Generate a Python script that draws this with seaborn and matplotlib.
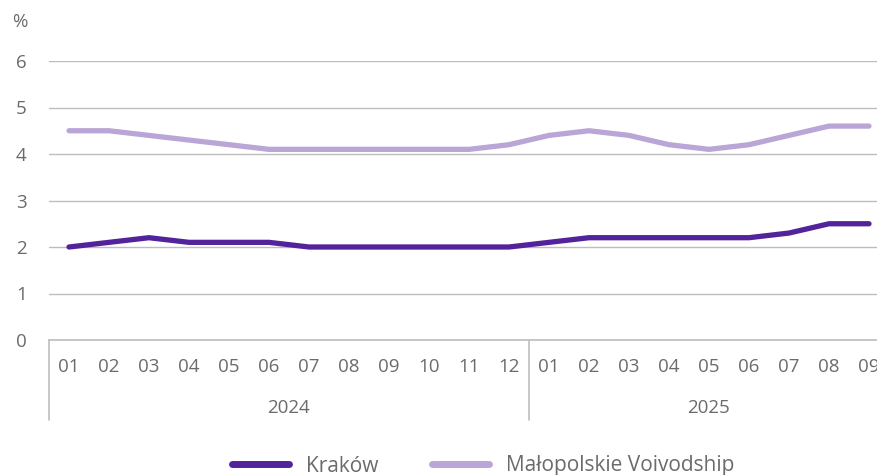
import pandas as pd
import matplotlib.pyplot as plt
import seaborn as sns

# Chart data
months = ['01', '02', '03', '04', '05', '06', '07', '08', '09', '10', '11', '12',
          '01', '02', '03', '04', '05', '06', '07', '08', '09']
years = ['2024', '2025']
year_counts = [12, 9]
krakow = [2.0, 2.1, 2.2, 2.1, 2.1, 2.1, 2.0, 2.0, 2.0, 2.0, 2.0, 2.0,
          2.1, 2.2, 2.2, 2.2, 2.2, 2.2, 2.3, 2.5, 2.5]
malopolskie = [4.5, 4.5, 4.4, 4.3, 4.2, 4.1, 4.1, 4.1, 4.1, 4.1, 4.1, 4.2,
               4.4, 4.5, 4.4, 4.2, 4.1, 4.2, 4.4, 4.6, 4.6]
series_names = ['Kraków', 'Małopolskie Voivodship']
colors = ['#52239a', '#b9a6d6']

df = pd.DataFrame({
    'pos': list(range(len(months))) * 2,
    'value': krakow + malopolskie,
    'series': [series_names[0]] * len(months) + [series_names[1]] * len(months),
})

sns.set_style('white')
plt.rcParams['font.family'] = ['Open Sans', 'DejaVu Sans']
text_color = '#6b6b6b'
grid_color = '#bdbdbd'
fs = 13.5

fig = plt.figure(figsize=(8.78, 4.75), dpi=100)
ax = fig.add_axes([49 / 878, 135 / 475, 840 / 878, 279 / 475])

sns.lineplot(data=df, x='pos', y='value', hue='series', palette=colors,
             linewidth=3.8, ax=ax, legend=False, solid_capstyle='round',
             solid_joinstyle='round')

ax.set_xlim(-0.5, len(months) - 0.5)
ax.set_ylim(0, 6)
ax.set_yticks(range(0, 7))
ax.yaxis.grid(True, color=grid_color, linewidth=1)
ax.set_axisbelow(True)
for s in ['top', 'right', 'left']:
    ax.spines[s].set_visible(False)
ax.spines['bottom'].set_color(grid_color)
ax.spines['bottom'].set_linewidth(1.2)

ax.set_xticks(range(len(months)))
ax.set_xticklabels(months)
ax.tick_params(axis='x', length=0, pad=13, labelsize=fs, labelcolor=text_color)
ax.tick_params(axis='y', length=0, pad=16, labelsize=fs, labelcolor=text_color)
ax.set_xlabel('')
ax.set_ylabel('')

# year group separators and labels
trans = ax.get_xaxis_transform()
start = 0
for yr, n in zip(years, year_counts):
    ax.plot([start - 0.5, start - 0.5], [0, -0.287], transform=trans,
            color=grid_color, linewidth=1.2, clip_on=False)
    ax.text(start + (n - 1) / 2, -0.243, yr, transform=trans, ha='center',
            va='center', fontsize=fs, color=text_color)
    start += n

fig.text(20 / 878, 1 - 22 / 475, '%', ha='center', va='center',
         fontsize=fs, color=text_color)

handles = [plt.Line2D([], [], color=c, linewidth=5, solid_capstyle='round')
           for c in colors]
fig.legend(handles, series_names, loc='center', bbox_to_anchor=(483 / 878, 9 / 475),
           ncol=2, frameon=False, fontsize=15, handlelength=2.75,
           columnspacing=2.6, handletextpad=0.8, labelcolor=text_color)

fig.savefig('out.png', dpi=100)
